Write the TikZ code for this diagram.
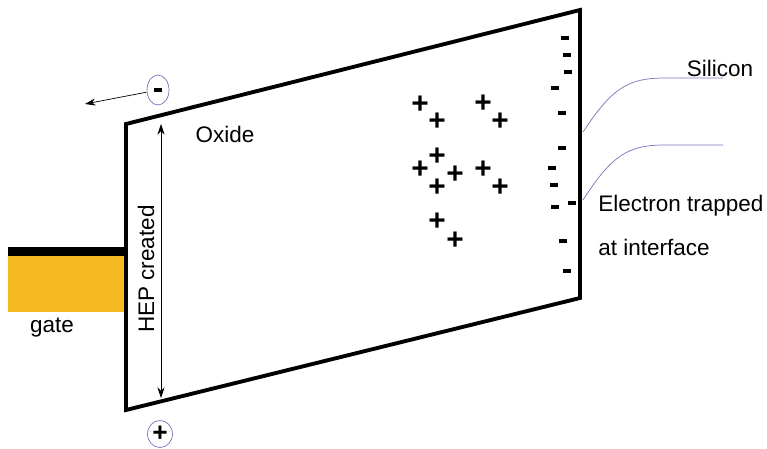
\documentclass[tikz,border=0pt]{standalone}
\usepackage{fontspec}
\setmainfont{Liberation Sans}
\usetikzlibrary{positioning, arrows.meta}
\definecolor{gateyellow}{HTML}{F6B922}
\definecolor{siblue}{HTML}{7474BC}

\begin{document}
\begin{tikzpicture}[x=0.02cm, y=-0.02cm, >={Stealth[length=6pt,width=4pt]},
    lbl/.style={font=\fontsize{12.8}{15}\selectfont, inner sep=0pt},
    chg/.style={font=\fontsize{17}{17}\selectfont\bfseries, inner sep=0pt},
    dash bar/.style={line width=1.8pt}]
\useasboundingbox (0,0) rectangle (767,449);

% gate
\fill[gateyellow] (8,256) rectangle (126,312);
\fill[black] (8,247) rectangle (126,256);
\node[lbl] (gate) at (52,328) {gate};

% oxide
\draw[line width=2.2pt, line join=miter] (126,124) -- (580,10) -- (580,298) -- (126,410) -- cycle;
\node[lbl] (oxide) at (225,134) {Oxide};

\coordinate (hepTop) at (161,124);
\coordinate (hepBot) at (161,398);
\draw[<->, thin] (hepTop) -- (hepBot);
\node[lbl, rotate=90] (hep) at (146,269) {HEP created};

% electron and hole
\node[circle, minimum size=0.46cm, inner sep=0pt] (elec) at (158,90) {};
\draw[siblue] (elec.center) ellipse (11 and 15);
\draw[dash bar] (154,90) -- (162,90);
\coordinate (away) at (85,104);
\draw[->] (elec) -- (away);

\draw[siblue] (160,434) ellipse (12.5 and 13.5);
\node[chg, font=\fontsize{15}{15}\selectfont\bfseries] (hole) at (160,434) {+};

% trapped holes in oxide
\foreach \px/\py in {420/105, 437/122, 483/104, 500/122, 437/157, 420/170, 455/175,
                     483/170, 437/188, 500/188, 437/222, 455/241}
  \node[chg] at (\px,\py) {+};

% electrons at interface
\foreach \mx/\my in {565/38, 567/55, 568/72, 555/88, 562/113, 562/148, 552/168,
                     554/185, 555/207, 572/203, 563/241, 567/271}
  \draw[dash bar] (\mx-4,\my) -- (\mx+4,\my);

% silicon side
\coordinate (siA) at (583,132);
\coordinate (siB) at (583,200);
\coordinate (siAend) at (723,78);
\coordinate (siBend) at (723,145);
\draw[siblue, thin] (siA) .. controls (612,88) and (628,78) .. (665,78) -- (siAend);
\draw[siblue, thin] (siB) .. controls (612,155) and (628,145) .. (665,145) -- (siBend);

\node[lbl] (silicon) at (720,68) {Silicon};
\node[lbl, anchor=west] (trap) at (598,206) {Electron trapped};
\node[lbl, anchor=west] (iface) at (598,247) {at interface};
\end{tikzpicture}
\end{document}
